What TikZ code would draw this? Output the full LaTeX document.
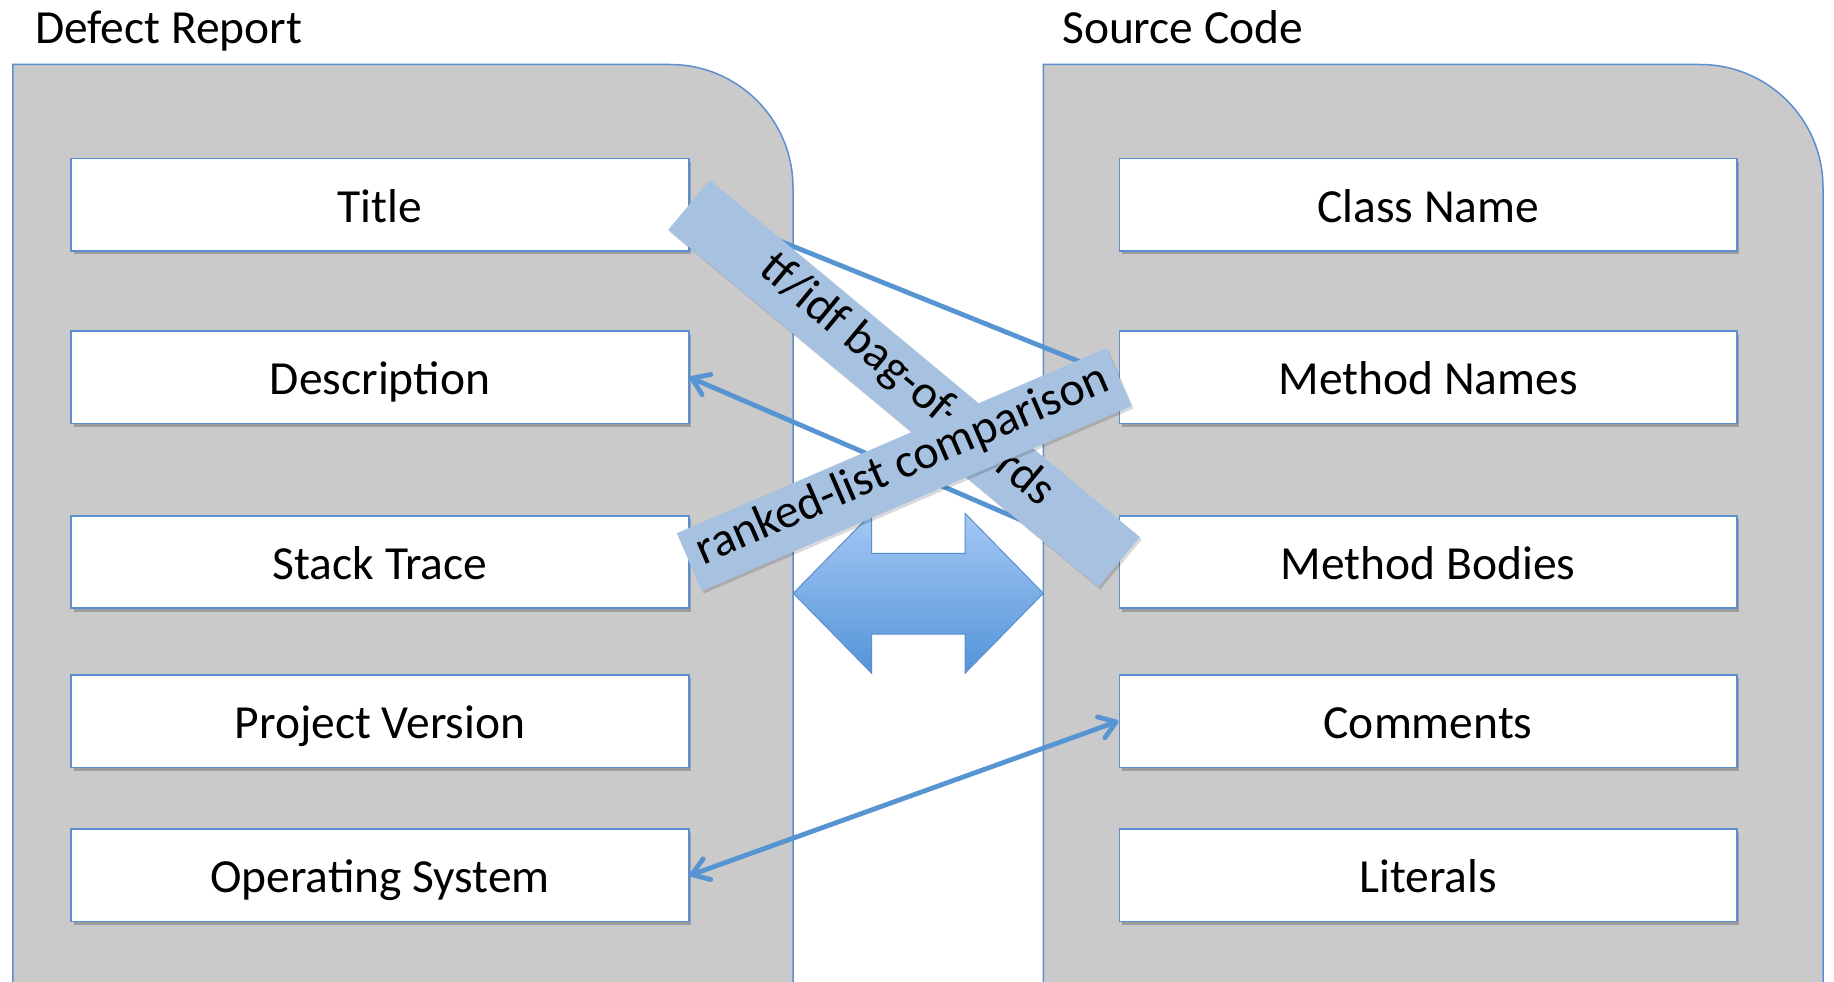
\documentclass[tikz,border=0pt]{standalone}
\usepackage{fontspec}
\setmainfont{Carlito}
\usetikzlibrary{arrows.meta,shadows}
\definecolor{panelgray}{HTML}{CACACA}
\definecolor{edgeblue}{HTML}{5B8FCF}
\definecolor{linkblue}{HTML}{5794D2}
\definecolor{bandblue}{HTML}{A7C1E0}
\definecolor{arrowtop}{HTML}{A4C8F5}
\definecolor{arrowbot}{HTML}{5494D8}
\begin{document}
\begin{tikzpicture}[x=1pt,y=-1pt,
  panel/.style={draw=edgeblue, line width=1.5pt, fill=panelgray},
  heading/.style={font=\fontsize{47.5}{56}\selectfont, inner sep=0pt},
  field/.style={draw=edgeblue, line width=1.6pt, fill=white,
    minimum width=617.6pt, minimum height=92.4pt, inner sep=0pt,
    text height=36pt, text depth=1pt,
    font=\fontsize{47.5}{56}\selectfont,
    drop shadow={shadow xshift=2.5pt, shadow yshift=-3.5pt, opacity=0.22, fill=black}},
  band/.style={fill=bandblue, inner sep=0pt,
    text height=33pt, text depth=16pt,
    font=\fontsize{48}{56}\selectfont,
    drop shadow={shadow xshift=2pt, shadow yshift=-2.5pt, opacity=0.15, fill=black}},
  link/.style={draw=linkblue, line width=4.8pt,
    {Straight Barb[length=16pt,width=22pt,round]}-{Straight Barb[length=16pt,width=22pt,round]}}
]
\useasboundingbox (0,0) rectangle (1834,982);
\clip (0,0) rectangle (1834,982);
\fill[white] (0,0) rectangle (1834,982);

% the two containers, open at the bottom, rounded at the top right
\path[panel] (12.9,1010) -- (12.9,64.5) -- (670,64.5)
  arc[start angle=-90, end angle=0, radius=123] -- (793,1010);
\path[panel] (1043.3,1010) -- (1043.3,64.5) -- (1700,64.5)
  arc[start angle=-90, end angle=0, radius=123] -- (1823,1010);

\node[heading, anchor=base west] (drhead) at (35,43.5) {Defect Report};
\node[heading, anchor=base west] (schead) at (1062,43.5) {Source Code};

% defect report fields
\node[field] (title)   at (380,204.7) {Title};
\node[field] (descr)   at (380,377.3) {Description};
\node[field] (stack)   at (380,562)   {Stack Trace};
\node[field] (version) at (380,721.1) {Project Version};
\node[field] (os)      at (380,875.4) {Operating System};

% source code fields
\node[field] (cname)   at (1428.1,204.7) {Class Name};
\node[field] (mnames)  at (1428.1,377.3) {Method Names};
\node[field] (mbodies) at (1428.1,562)   {Method Bodies};
\node[field] (comm)    at (1428.1,721.1) {Comments};
\node[field] (lits)    at (1428.1,875.4) {Literals};

% field-to-field links
\draw[link] (title.east) -- (mnames.west);
\draw[link] (descr.east) -- (mbodies.west);
\draw[link] (os.east) -- (comm.west);

% big two-way arrow between the containers
\path[draw=edgeblue, line width=1pt, top color=arrowtop, bottom color=arrowbot]
  (793.3,593.3) -- (871.7,513.3) -- (871.7,553.3) -- (965,553.3) -- (965,513.3)
  -- (1043.3,593.3) -- (965,673.3) -- (965,634) -- (871.7,634) -- (871.7,673.3) -- cycle;

% method labels
\node[band, minimum width=559pt, minimum height=65pt, rotate=-39.7] (tfidf)
  at (904,383.5) {tf/idf bag-of-words};
\node[band, minimum width=468pt, minimum height=63pt, rotate=23.3] (ranked)
  at (904.2,469.6) {ranked-list comparison};
\end{tikzpicture}
\end{document}
